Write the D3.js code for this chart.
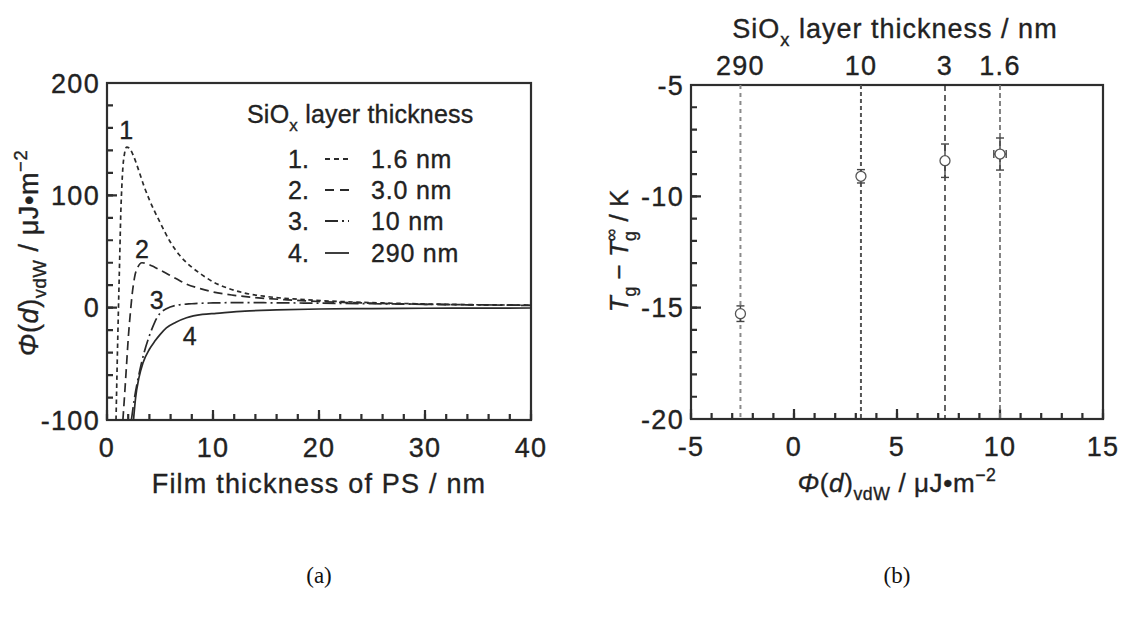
<!DOCTYPE html>
<html>
<head>
<meta charset="utf-8">
<script src="https://cdn.jsdelivr.net/npm/d3@7"></script>
<style>
  html, body { margin: 0; padding: 0; background: #fff; }
  svg { display: block; }
  text { stroke: #222; stroke-width: 0.35px; }
</style>
</head>
<body>
<svg id="chart" width="1131" height="619"></svg>
<script>
// ---------------- DATA ----------------
// Panel (a): Φ(d)vdW vs film thickness of PS for four SiOx layer thicknesses
const legendLabels = ["1.6 nm", "3.0 nm", "10 nm", "290 nm"];
const filmD1 = [0.85, 0.95, 1.07, 1.2, 1.3, 1.4, 1.5, 1.65, 1.85, 2.1, 2.5, 3.0, 3.5, 4.0, 5.0, 6.0, 7.0, 8.0, 9.0, 10, 11.5, 13, 15, 18, 22, 26, 30, 35, 40];
const phi1   = [-100, -55, -5, 45, 84, 108, 125, 137, 143, 142, 135, 122, 108, 96, 76, 58, 45, 36, 29, 23, 17, 13, 10, 7.5, 5.5, 4.2, 3.3, 2.6, 2.2];
const filmD2 = [1.5, 1.7, 1.85, 2.0, 2.2, 2.4, 2.6, 2.9, 3.3, 3.8, 4.5, 5.5, 6.5, 7.5, 8.8, 10, 12, 14, 17, 20, 25, 30, 35, 40];
const phi2   = [-100, -72, -50, -28, -5, 14, 27, 36, 40, 39, 36, 31, 26, 21, 17, 14, 11, 9, 7, 5.5, 4, 3, 2.5, 2];
const filmD3 = [2.3, 2.6, 3.0, 3.5, 4.0, 4.5, 5.0, 5.6, 6.5, 8, 10, 13, 16, 20, 25, 30, 35, 40];
const phi3   = [-100, -80, -60, -40, -25, -13, -5, -1, 2, 3.5, 4.2, 4.5, 4.3, 4, 3.5, 3, 2.5, 2.2];
const filmD4 = [2.5, 2.7, 3.0, 3.4, 4.0, 4.5, 5.0, 5.6, 6.5, 7.5, 9, 10.3, 13, 16, 20, 25, 30, 35, 40];
const phi4   = [-100, -80, -63, -49, -37, -30, -24, -18, -13, -9, -6, -5, -3, -2, -1.2, -0.8, -0.5, -0.4, -0.3];

const xTicksA = [0, 10, 20, 30, 40];
const yTicksA = [-100, 0, 100, 200];

// Panel (b): Tg - Tg∞ vs Φ(d)vdW
const sioxLabels = ["290", "10", "3", "1.6"];
const phiVdw     = [-2.6, 3.25, 7.33, 10.0];
const dTg        = [-15.27, -9.1, -8.4, -8.1];
const dTgErr     = [0.35, 0.3, 0.75, 0.72];
const phiErr     = [0, 0, 0, 0.3];
const xTicksB = [-5, 0, 5, 10, 15];
const yTicksB = [-20, -15, -10, -5];

// ---------------- DRAW ----------------
const svg = d3.select("#chart");
const FONT = "'Liberation Sans', Arial, sans-serif";
const INK = "#222";
const FRAME = "#2e2e2e";
const TICKFS = 27, TICKLS = 1.3;

function rich(sel, parts, fs) {
  let off = 0;
  parts.forEach(p => {
    const ts = sel.append("tspan").text(p.t);
    let target = 0, size = fs;
    if (p.sub) { target = 0.3 * fs; size = 0.68 * fs; }
    if (p.sup) { target = -0.42 * fs; size = 0.68 * fs; }
    const dy = target - off;
    if (dy !== 0) ts.attr("dy", dy);
    off = target;
    ts.attr("font-size", size);
    if (p.it) ts.attr("font-style", "italic");
    if (p.dx) ts.attr("dx", p.dx);
  });
}

// inward ticks drawn as short paths
function ticksBottom(g, scale, vals, y, len) {
  g.append("path")
    .attr("d", vals.map(d => `M${scale(d)},${y}V${y - len}`).join(""))
    .attr("fill", "none").attr("stroke", FRAME).attr("stroke-width", 2.2);
}
function ticksLeft(g, scale, vals, x, len) {
  g.append("path")
    .attr("d", vals.map(d => `M${x},${scale(d)}H${x + len}`).join(""))
    .attr("fill", "none").attr("stroke", FRAME).attr("stroke-width", 2.2);
}
function labelsBottom(g, scale, vals, y) {
  g.append("g").selectAll("text").data(vals).join("text")
    .attr("x", d => scale(d)).attr("y", y).attr("text-anchor", "middle")
    .attr("font-family", FONT).attr("font-size", TICKFS).attr("letter-spacing", TICKLS)
    .attr("fill", INK).text(d => String(d));
}
function labelsLeft(g, scale, vals, x) {
  g.append("g").selectAll("text").data(vals).join("text")
    .attr("x", x).attr("y", d => scale(d)).attr("dy", "0.36em").attr("text-anchor", "end")
    .attr("font-family", FONT).attr("font-size", TICKFS).attr("letter-spacing", TICKLS)
    .attr("fill", INK).text(d => String(d));
}

// ===== Panel (a) =====
const xA = d3.scaleLinear([0, 40], [107, 531]);
const yA = d3.scaleLinear([-100, 200], [420, 83]);
const gA = svg.append("g");
svg.append("clipPath").attr("id", "clipA")
  .append("rect").attr("x", xA(0)).attr("y", yA(200)).attr("width", xA(40) - xA(0)).attr("height", yA(-100) - yA(200));

gA.append("rect").attr("x", xA(0)).attr("y", yA(200))
  .attr("width", xA(40) - xA(0)).attr("height", yA(-100) - yA(200))
  .attr("fill", "none").attr("stroke", FRAME).attr("stroke-width", 2.2);

ticksBottom(gA, xA, d3.range(0, 41, 2), yA(-100), 6);
ticksBottom(gA, xA, xTicksA, yA(-100), 10);
ticksLeft(gA, yA, d3.range(-100, 201, 20), xA(0), 6);
ticksLeft(gA, yA, yTicksA, xA(0), 10);
labelsBottom(gA, xA, xTicksA, 457);
labelsLeft(gA, yA, yTicksA, 100);

const seriesA = [
  { xs: filmD1, ys: phi1, dash: "4.5,3.5" },
  { xs: filmD2, ys: phi2, dash: "9,5" },
  { xs: filmD3, ys: phi3, dash: "13,4,2,4" },
  { xs: filmD4, ys: phi4, dash: null }
];
const lineA = d3.line().x(d => xA(d[0])).y(d => yA(d[1])).curve(d3.curveMonotoneX);
const curves = gA.append("g").attr("clip-path", "url(#clipA)");
seriesA.forEach(s => {
  const pts = s.xs.map((x, i) => [x, s.ys[i]]);
  curves.append("path").attr("d", lineA(pts)).attr("fill", "none")
    .attr("stroke", "#2a2a2a").attr("stroke-width", 1.7)
    .attr("stroke-dasharray", s.dash);
});

// curve number labels
const curveLabelPos = [[1.8, 158], [3.3, 52], [4.7, 7], [7.8, -25]];
curveLabelPos.forEach((p, i) => {
  gA.append("text").attr("x", xA(p[0])).attr("y", yA(p[1])).attr("dy", "0.36em")
    .attr("text-anchor", "middle")
    .attr("font-family", FONT).attr("font-size", 25).attr("fill", INK)
    .text(String(i + 1));
});

// legend
const lg = gA.append("g").attr("font-family", FONT).attr("fill", INK);
const lgTitle = lg.append("text").attr("x", 247).attr("y", 123).attr("font-size", 25).attr("letter-spacing", 0.2);
rich(lgTitle, [{ t: "SiO" }, { t: "x", sub: true }, { t: " layer thickness" }], 25);
const rowY = [159, 190, 221, 253];
legendLabels.forEach((lab, i) => {
  lg.append("text").attr("x", 288).attr("y", rowY[i]).attr("dy", "0.36em")
    .attr("font-size", 25).text((i + 1) + ".");
  lg.append("line").attr("x1", 325).attr("x2", 349).attr("y1", rowY[i]).attr("y2", rowY[i])
    .attr("stroke", "#2a2a2a").attr("stroke-width", 1.8)
    .attr("stroke-dasharray", [ "5,4", "9,6", "13,4,2,4", null ][i]);
  lg.append("text").attr("x", 371).attr("y", rowY[i]).attr("dy", "0.36em")
    .attr("font-size", 25).attr("letter-spacing", 0.8).text(lab);
});

// axis titles (a)
gA.append("text").attr("x", (xA(0) + xA(40)) / 2).attr("y", 493)
  .attr("text-anchor", "middle").attr("font-family", FONT).attr("font-size", 27)
  .attr("letter-spacing", 1.2).attr("fill", INK)
  .text("Film thickness of PS / nm");
const ytA = gA.append("text").attr("transform", "translate(38,253) rotate(-90)")
  .attr("text-anchor", "middle").attr("font-family", FONT).attr("font-size", 27)
  .attr("letter-spacing", 0.6).attr("fill", INK);
rich(ytA, [{ t: "Φ", it: true }, { t: "(" }, { t: "d", it: true }, { t: ")" }, { t: "vdW", sub: true }, { t: " / μJ•m" }, { t: "−2", sup: true }], 27);

// ===== Panel (b) =====
const xB = d3.scaleLinear([-5, 15], [691, 1103]);
const yB = d3.scaleLinear([-20, -5], [419, 85]);
const gB = svg.append("g");

gB.append("rect").attr("x", xB(-5)).attr("y", yB(-5))
  .attr("width", xB(15) - xB(-5)).attr("height", yB(-20) - yB(-5))
  .attr("fill", "none").attr("stroke", FRAME).attr("stroke-width", 2.2);

ticksBottom(gB, xB, d3.range(-5, 16, 1), yB(-20), 6);
ticksBottom(gB, xB, xTicksB, yB(-20), 10);
ticksLeft(gB, yB, d3.range(-20, -4, 1), xB(-5), 6);
ticksLeft(gB, yB, yTicksB, xB(-5), 10);
labelsBottom(gB, xB, xTicksB, 456);
labelsLeft(gB, yB, yTicksB, 684);

// vertical dashed reference lines + top labels
const vStyles = [
  { c: "#8a8a8a", d: "4,4", w: 2 },
  { c: "#555", d: "4,3", w: 2 },
  { c: "#222", d: "6,4", w: 1.4 },
  { c: "#777", d: "5,3", w: 1.8 }
];
phiVdw.forEach((v, i) => {
  gB.append("line").attr("x1", xB(v)).attr("x2", xB(v)).attr("y1", yB(-5)).attr("y2", yB(-20))
    .attr("stroke", vStyles[i].c).attr("stroke-width", vStyles[i].w).attr("stroke-dasharray", vStyles[i].d);
  gB.append("text").attr("x", xB(v)).attr("y", 75).attr("text-anchor", "middle")
    .attr("font-family", FONT).attr("font-size", TICKFS).attr("letter-spacing", TICKLS)
    .attr("fill", INK).text(sioxLabels[i]);
});

// error bars + points
const eb = gB.append("g").attr("stroke", "#444").attr("stroke-width", 1.4);
phiVdw.forEach((v, i) => {
  const cx = xB(v), cy = yB(dTg[i]);
  const y1 = yB(dTg[i] + dTgErr[i]), y2 = yB(dTg[i] - dTgErr[i]);
  eb.append("line").attr("x1", cx).attr("x2", cx).attr("y1", y1).attr("y2", y2);
  eb.append("line").attr("x1", cx - 4).attr("x2", cx + 4).attr("y1", y1).attr("y2", y1);
  eb.append("line").attr("x1", cx - 4).attr("x2", cx + 4).attr("y1", y2).attr("y2", y2);
  if (phiErr[i] > 0) {
    const x1 = xB(v - phiErr[i]), x2 = xB(v + phiErr[i]);
    eb.append("line").attr("x1", x1).attr("x2", x2).attr("y1", cy).attr("y2", cy);
    eb.append("line").attr("x1", x1).attr("x2", x1).attr("y1", cy - 4).attr("y2", cy + 4);
    eb.append("line").attr("x1", x2).attr("x2", x2).attr("y1", cy - 4).attr("y2", cy + 4);
  }
});
gB.append("g").selectAll("circle").data(phiVdw).join("circle")
  .attr("cx", d => xB(d)).attr("cy", (d, i) => yB(dTg[i])).attr("r", 5)
  .attr("fill", "#fff").attr("stroke", "#555").attr("stroke-width", 1.3);

// axis titles (b)
const topB = gB.append("text").attr("x", 895).attr("y", 38).attr("text-anchor", "middle")
  .attr("font-family", FONT).attr("font-size", 27).attr("letter-spacing", 1.0).attr("fill", INK);
rich(topB, [{ t: "SiO" }, { t: "x", sub: true }, { t: " layer thickness / nm" }], 27);

const xtB = gB.append("text").attr("x", (xB(-5) + xB(15)) / 2).attr("y", 492).attr("text-anchor", "middle")
  .attr("font-family", FONT).attr("font-size", 26).attr("letter-spacing", 0.6).attr("fill", INK);
rich(xtB, [{ t: "Φ", it: true }, { t: "(" }, { t: "d", it: true }, { t: ")" }, { t: "vdW", sub: true }, { t: " / μJ•m" }, { t: "−2", sup: true }], 26);

const ytB = gB.append("text").attr("transform", "translate(628,251) rotate(-90)")
  .attr("text-anchor", "middle").attr("font-family", FONT).attr("font-size", 26).attr("fill", INK);
rich(ytB, [{ t: "T", it: true }, { t: "g", sub: true }, { t: " − " }, { t: "T", it: true }, { t: "g", sub: true }, { t: "∞", sup: true, dx: -10 }, { t: " / K" }], 26);

// captions
svg.append("text").attr("x", 319).attr("y", 583).attr("text-anchor", "middle").style("stroke", "none")
  .attr("font-family", "'Liberation Serif', 'Times New Roman', serif").attr("font-size", 23).attr("fill", "#111").text("(a)");
svg.append("text").attr("x", 897).attr("y", 583).attr("text-anchor", "middle").style("stroke", "none")
  .attr("font-family", "'Liberation Serif', 'Times New Roman', serif").attr("font-size", 23).attr("fill", "#111").text("(b)");
</script>
</body>
</html>
